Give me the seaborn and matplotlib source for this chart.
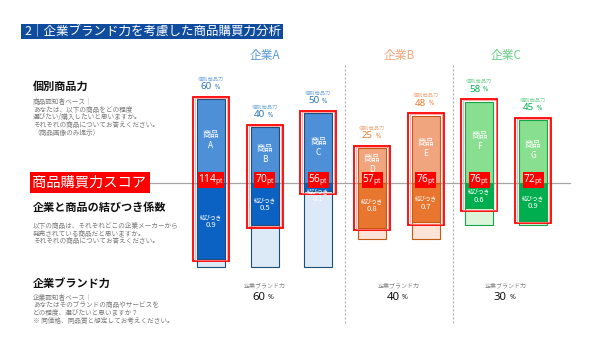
import matplotlib
matplotlib.use("Agg")
import matplotlib.pyplot as plt
import seaborn as sns
import pandas as pd
from matplotlib.patches import Rectangle

sns.set_theme(style="white")
JP = ["Noto Sans CJK JP", "DejaVu Sans"]
plt.rcParams["font.family"] = JP
plt.rcParams["mathtext.fontset"] = "custom"
plt.rcParams["mathtext.rm"] = "Noto Sans"
plt.rcParams["mathtext.bf"] = "Noto Sans:bold"

# ---- data -------------------------------------------------------------
companies = ["企業A", "企業B", "企業C"]
brand_power = [60, 40, 30]                      # 企業ブランド力 (%)
products = ["A", "B", "C", "D", "E", "F", "G"]
product_company = ["企業A", "企業A", "企業A", "企業B", "企業B", "企業C", "企業C"]
product_power = [60, 40, 50, 25, 48, 58, 45]    # 個別商品力 (%)
link_coef = [0.9, 0.5, 0.1, 0.8, 0.7, 0.6, 0.9] # 企業と商品の結びつき係数

styles = {
    "企業A": dict(upper="#4d90d8", lower="#0c62c2", base="#dce9f6", edge="#1f4e79",
                 title="#5b9bd5", value="#2e75b6", small="#7fb0e0"),
    "企業B": dict(upper="#f0a57e", lower="#e8762f", base="#fde4d6", edge="#c55a11",
                 title="#f2a77f", value="#ed7d31", small="#f0ad88"),
    "企業C": dict(upper="#88df8f", lower="#00ae4f", base="#daf5d8", edge="#14a64a",
                 title="#6bcf86", value="#00b050", small="#7fd49a"),
}

df = pd.DataFrame(dict(product=products, company=product_company,
                       power=product_power, coef=link_coef))
df["brand"] = df["company"].map(dict(zip(companies, brand_power)))
df["linked"] = df["brand"] * df["coef"]
df["score"] = df["power"] + df["linked"]
df["brand_neg"] = -df["brand"]
df["linked_neg"] = -df["linked"]

# ---- figure / axes ----------------------------------------------------
FW, FH = 600, 338
fig = plt.figure(figsize=(FW / 100, FH / 100), dpi=100)
ax = fig.add_axes([0, 0, 1, 1])

W = 0.52
for comp in companies:
    sub = df[df["company"] == comp]
    st = styles[comp]
    common = dict(data=sub, x="product", order=products, width=W, saturation=1,
                  errorbar=None, ax=ax, edgecolor=st["edge"], linewidth=0.8)
    sns.barplot(y="brand_neg", color=st["base"], **common)
    sns.barplot(y="linked_neg", color=st["lower"], **common)
    sns.barplot(y="power", color=st["upper"], **common)

PX_X = 53.67   # px per category
PX_Y = 1.4     # px per %
X0, Y0 = 211, 183
ax.set_xlim(-X0 / PX_X, (FW - X0) / PX_X)
ax.set_ylim(-(FH - Y0) / PX_Y, Y0 / PX_Y)
ax.axis("off")

# score baseline
ax.axhline(0, xmin=150 / FW, xmax=570 / FW, color="#a6a6a6", lw=0.9, zorder=0.5)

# group separators
xt = ax.get_xaxis_transform()
bounds = df.groupby("company", sort=False).size().cumsum().values[:-1] - 0.5
for b in bounds:
    ax.plot([b, b], [1 - 65 / FH, 1 - 323 / FH], transform=xt, color="#b0b0b0",
            lw=0.9, ls=(0, (1.6, 1.6)), zorder=0.5)

padx, pady = 4 / PX_X, 2.5 / PX_Y
for i, r in df.iterrows():
    st = styles[r["company"]]
    # score outline
    ax.add_patch(Rectangle((i - W / 2 - padx, -r["linked"] - pady), W + 2 * padx,
                           r["score"] + 2 * pady, fill=False, ec="#ff0000",
                           lw=1.3, zorder=6))
    ax.add_patch(Rectangle((i - W / 2 - padx * 0.55, -r["linked"] - pady * 0.55),
                           W + 1.1 * padx, r["score"] + 1.1 * pady, fill=False,
                           ec="#ff8a8a", lw=0.5, zorder=6))
    # product label inside upper bar (kept clear of the score tag)
    ax.text(i, max(r["power"] / 2 + 1, 13.8), f"商品\n{r['product']}", ha="center",
            va="center", color="white", fontsize=6, linespacing=1.3, zorder=7)
    # coefficient label inside lower bar
    yc = min(-r["linked"] / 2, -8.6)
    ax.text(i, yc + 2.8, "結びつき", ha="center", va="center", color="white",
            fontsize=4, zorder=7)
    ax.text(i, yc - 2.8, f"{r['coef']:.1f}", ha="center", va="center", color="white",
            fontsize=5.5, zorder=7)
    # score tag on the baseline
    ax.text(i, 2.2, f"{round(r['score'])}" + r"$_{\mathbf{pt}}$", ha="center",
            va="center", color="white", fontsize=7.2, fontweight="bold", zorder=8,
            family=["Noto Sans", "DejaVu Sans"],
            bbox=dict(boxstyle="square,pad=0.04", fc="#ff0000", ec="none"))
    # product power above bar
    ax.annotate("個別商品力", (i, r["power"]), xytext=(0, 14.5), textcoords="offset points",
                ha="center", va="center", color=st["small"], fontsize=3.8)
    ax.annotate(f"{r['power']}", (i, r["power"]), xytext=(0.6, 9), textcoords="offset points",
                ha="right", va="center", color=st["value"], fontsize=7, fontweight="bold",
                family=["Noto Sans", "DejaVu Sans"])
    ax.annotate("%", (i, r["power"]), xytext=(2.4, 8.5), textcoords="offset points",
                ha="left", va="center", color=st["value"], fontsize=4.5, fontweight="bold",
                family=["Noto Sans", "DejaVu Sans"])

# company headers and brand power
centers = df.reset_index().groupby("company", sort=False)["index"].mean()
for comp, bp in zip(companies, brand_power):
    st = styles[comp]
    cx = centers[comp]
    ax.text(cx, 1 - 55 / FH, comp, transform=xt, ha="center", va="center",
            color=st["title"], fontsize=8.5)
    ax.text(cx, 1 - 285.5 / FH, "企業ブランド力", transform=xt, ha="center",
            va="center", color="#808080", fontsize=4.3)
    ax.text(cx + 0.01, 1 - 297 / FH, f"{bp}", transform=xt, ha="right", va="center",
            color="#111111", fontsize=8.2, fontweight="bold", family=["Noto Sans", "DejaVu Sans"])
    ax.text(cx + 0.06, 1 - 297.5 / FH, "%", transform=xt, ha="left", va="center",
            color="#111111", fontsize=5, fontweight="bold", family=["Noto Sans", "DejaVu Sans"])


# ---- left-hand explanatory text ---------------------------------------
def ftext(x, y, s, **kw):
    kw.setdefault("va", "center")
    return fig.text(x / FW, 1 - y / FH, s, **kw)


fig.patches.append(Rectangle((21 / FW, 1 - 39 / FH), 262 / FW, 15 / FH,
                             transform=fig.transFigure, fc="#0f4c9e", ec="none"))
ftext(24, 31.5, "2｜企業ブランド力を考慮した商品購買力分析", color="white", fontsize=9)

fig.patches.append(Rectangle((30 / FW, 1 - 193 / FH), 120 / FW, 21 / FH,
                             transform=fig.transFigure, fc="#ff0000", ec="none"))
ftext(32, 182.5, "商品購買力スコア", color="white", fontsize=10.3)

sections = [
    ("個別商品力", 86, ["商品認知者ベース｜", "あなたは、以下の商品をどの程度",
                     "選びたい/購入したいと思いますか。", "それぞれの商品についてお答えください。",
                     "（商品画像のみ提示）"], 101.7),
    ("企業と商品の結びつき係数", 207.7, ["以下の商品は、それぞれどこの企業メーカーから",
                                 "発売されている商品だと思いますか。",
                                 "それぞれの商品についてお答えください。"], 225.8),
    ("企業ブランド力", 283.3, ["企業認知者ベース｜", "あなたはそのブランドの商品やサービスを",
                            "どの程度、選びたいと思いますか？",
                            "※ 同価格、同品質と想定してお考えください。"], 297.7),
]
for head, hy, lines, ly in sections:
    ftext(33, hy, head, color="#111111", fontsize=8, fontweight="bold")
    for k, line in enumerate(lines):
        ftext(33, ly + 7.8 * k, line, color="#7a7a7a", fontsize=4.8)

fig.savefig("out.png", dpi=100)
